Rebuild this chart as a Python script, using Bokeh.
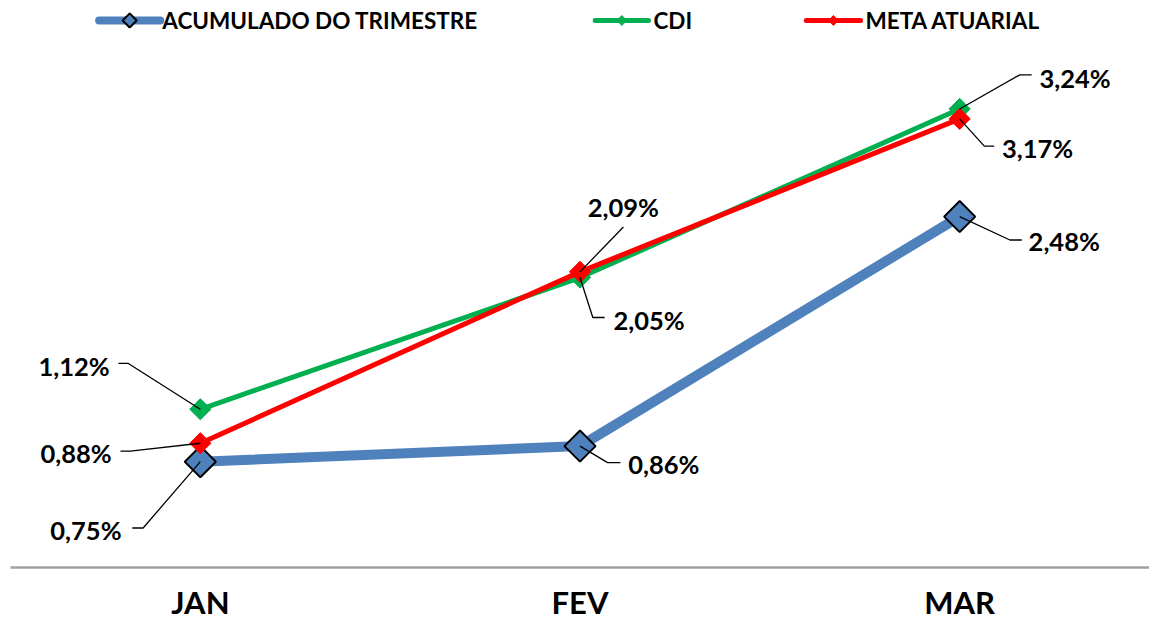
import numpy as np
from bokeh.plotting import figure
from bokeh.models import Range1d, FixedTicker, ColumnDataSource
from bokeh.core.properties import value
from bokeh.embed import file_html
from bokeh.resources import INLINE

# ---------------- data ----------------
months = ["JAN", "FEV", "MAR"]
acumulado = [0.75, 0.86, 2.48]
cdi = [1.12, 2.05, 3.24]
meta = [0.88, 2.09, 3.17]
series_names = ["ACUMULADO DO TRIMESTRE", "CDI", "META ATUARIAL"]

# ---------------- layout / style ----------------
W, H = 1149, 623
SX, SY = W / 1165.0, H / 639.0          # reference-pixel to figure-pixel scale
ML, MB = 10, 56
FW, FH = W - ML, H - MB
X0, X1 = -0.5, 2.5
PX_PER_X = FW / (X1 - X0)
PX_PER_Y = 145.3 * SY
ZERO_FIG_Y = 582.0 * SY
y_bottom = (ZERO_FIG_Y - FH) / PX_PER_Y
y_top = y_bottom + FH / PX_PER_Y

BLUE, GREEN, RED = "#4F81BD", "#00B050", "#FF0000"
FONT = "Lato"

# label center offsets (reference px, +y down) per series per month
label_offsets = {
    "acum": [(-116, 70), (85, 18), (106, 25)],
    "cdi": [(-128, -44), (70, 44), (117, -32)],
    "meta": [(-126, 10), (44, -67), (79, 30)],
}
# leader-line bend points relative to each point (reference px)
leader_paths = {
    "acum": [[(-58, 68), (-69, 68)], [(28, 17), (41, 17)], [(51, 24), (63, 24)]],
    "cdi": [[(-73, -47), (-83, -47)], [(13, 41), (25, 41)], [(61, -35), (73, -35)]],
    "meta": [[(-71, 8), (-81, 8)], [(44, -46)], [(25, 28), (35, 28)]],
}
# legend layout (reference px)
legend_y = 20.5
legend_items = [
    dict(x0=100, x1=162, tx=164, color=BLUE, lw=8, msize=10, mline=2),
    dict(x0=603, x1=657, tx=662, color=GREEN, lw=5, msize=7, mline=0),
    dict(x0=817, x1=872, tx=877, color=RED, lw=5, msize=7, mline=0),
]

p = figure(width=W, height=H, x_range=Range1d(X0, X1),
           y_range=Range1d(y_bottom, y_top), output_backend="svg",
           toolbar_location=None, y_axis_location=None,
           min_border_left=ML, min_border_right=0, min_border_top=0,
           min_border_bottom=MB)
# pixel-space ranges (figure px) for annotations such as the legend keys
p.extra_x_ranges = {"px": Range1d(ML, W)}
p.extra_y_ranges = {"px": Range1d(FH, 0)}
p.outline_line_color = None
p.grid.visible = False
p.background_fill_color = "white"
p.border_fill_color = "white"

xs = list(range(len(months)))
ax = p.xaxis[0]
ax.ticker = FixedTicker(ticks=xs)
ax.major_label_overrides = {i: m for i, m in enumerate(months)}
ax.axis_line_color = "#a0a0a0"
ax.axis_line_width = 2.5
ax.major_tick_line_color = None
ax.minor_tick_line_color = None
ax.major_tick_out = 0
ax.major_tick_in = 0
ax.minor_tick_out = 0
ax.minor_tick_in = 0
ax.major_label_text_font = FONT
ax.major_label_text_font_style = "bold"
ax.major_label_text_font_size = "31px"
ax.major_label_text_color = "black"
ax.major_label_standoff = 15

series = [
    ("acum", acumulado, BLUE, 10, 22, 2),
    ("cdi", cdi, GREEN, 5, 15, 0),
    ("meta", meta, RED, 5, 15, 0),
]

for key, vals, color, lw, msize, mline in series:
    p.line(xs, vals, line_color=color, line_width=lw, line_join="round", line_cap="round")
    p.scatter(xs, vals, marker="square", angle=np.pi / 4, size=msize,
              fill_color=color, line_color="black" if mline else color,
              line_width=mline if mline else 1)


def to_px(x, y):
    return ML + (x - X0) * PX_PER_X, (y_top - y) * PX_PER_Y


lx, ly, lt, lox, loy = [], [], [], [], []
leader_xs, leader_ys = [], []
for key, vals, color, lw, msize, mline in series:
    for i, v in enumerate(vals):
        lx.append(xs[i]); ly.append(v)
        lt.append(f"{v:.2f}%".replace(".", ","))
        ox, oy = label_offsets[key][i]
        lox.append(ox * SX); loy.append(oy * SY)
        px, py = to_px(xs[i], v)
        pts = [(0, 0)] + leader_paths[key][i]
        leader_xs.append([px + a * SX for a, b in pts])
        leader_ys.append([py + b * SY for a, b in pts])

p.multi_line(leader_xs, leader_ys, line_color="black", line_width=1.3,
             x_range_name="px", y_range_name="px")

src = ColumnDataSource(dict(x=lx, y=ly, text=lt, xo=lox, yo=loy))
p.text(x="x", y="y", text="text", x_offset="xo", y_offset="yo", source=src,
       text_font=value(FONT), text_font_style="bold", text_font_size="25.5px",
       text_color="black", text_align="center", text_baseline="middle")

# legend (manual keys, placed in figure px)
for name, it in zip(series_names, legend_items):
    ly_ = legend_y * SY
    p.line([it["x0"] * SX, it["x1"] * SX], [ly_, ly_], line_color=it["color"],
           line_width=it["lw"], line_cap="round", x_range_name="px", y_range_name="px")
    mx = (it["x0"] + it["x1"]) / 2 * SX
    p.scatter([mx], [ly_], marker="square", angle=np.pi / 4, size=it["msize"],
              fill_color=it["color"],
              line_color="black" if it["mline"] else it["color"],
              line_width=it["mline"] if it["mline"] else 1,
              x_range_name="px", y_range_name="px")
    p.text([it["tx"] * SX], [ly_], text=[name], text_font=value(FONT),
           text_font_style="bold", text_font_size="22.5px", text_color="black",
           text_align="left", text_baseline="middle",
           x_range_name="px", y_range_name="px")

open("out.html", "w").write(file_html(p, INLINE))
